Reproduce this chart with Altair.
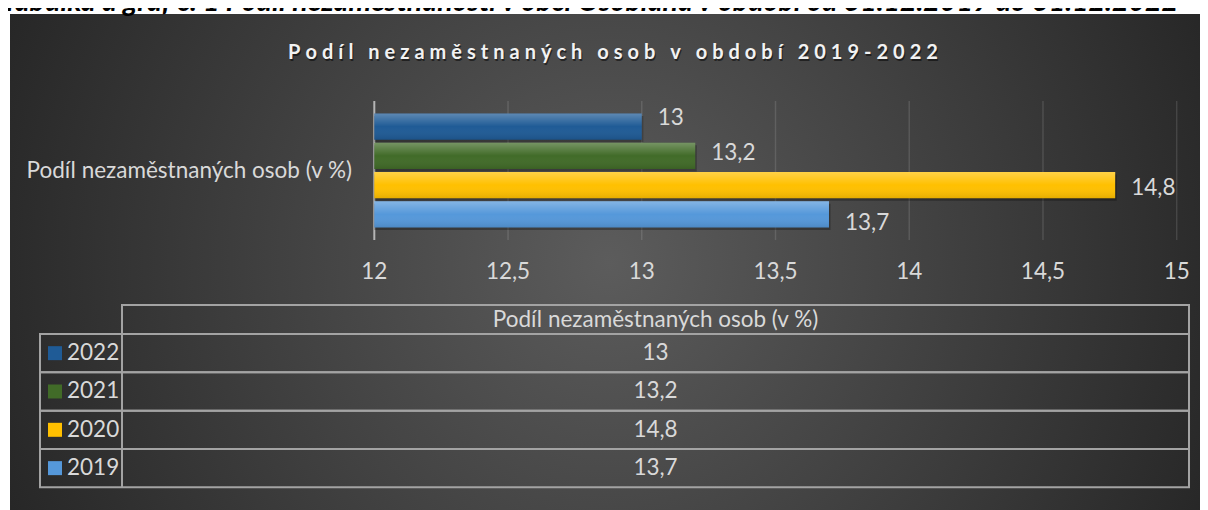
import altair as alt
import pandas as pd

# ---- data ----
years = ["2022", "2021", "2020", "2019"]
values = [13.0, 13.2, 14.77, 13.7]
bar_colors = ["#1f5b96", "#416b28", "#ffc000", "#5598da"]
ticks = [12, 12.5, 13, 13.5, 14, 14.5, 15]
category = "Podíl nezaměstnaných osob (v %)"
chart_title = "Podíl nezaměstnaných osob v období 2019-2022"
caption = "Tabulka a graf č. 1 Podíl nezaměstnanosti v obci Osoblaha v období od 31.12.2019 do 31.12.2022"

FONT = "Lato, DejaVu Sans"
FS = 22.5
W, H = 1192, 502
TXT = "#d9d9d9"
LINE = "#a3a3a3"

bars_df = pd.DataFrame({"year": years, "value": values})
ticks_df = pd.DataFrame({"tick": ticks})
one = pd.DataFrame({"k": [0]})

xs = alt.Scale(domain=[12, 15], range=[366.3, 1168.7])
ys = alt.Scale(domain=years, range=[93, 232], paddingInner=0.11, paddingOuter=0.43)
ts = alt.Scale(domain=years, range=[326, 479.3], paddingInner=0, paddingOuter=0)
cs = alt.Scale(domain=years, range=bar_colors)

label_expr = "replace(toString(round(datum.value*10)/10), '.', ',')"

# ---- background panel ----
panel = alt.Chart(one).mark_rect(
    fill={"gradient": "radial", "x1": 0.5, "y1": 0.5, "r1": 0,
          "x2": 0.5, "y2": 0.5, "r2": 0.55,
          "stops": [{"offset": 0, "color": "#5c5c5c"},
                    {"offset": 1, "color": "#262626"}]}
).encode(x=alt.value(2), x2=alt.value(W + 8), y=alt.value(6), y2=alt.value(H))

cap = alt.Chart(one).mark_text(
    text=caption, font="Lato", fontSize=28.5, fontWeight="bold", fontStyle="italic",
    color="#000000", align="left", baseline="alphabetic"
).encode(x=alt.value(-6), y=alt.value(2.5))

spaced = "\u2005".join(chart_title)
title_shadow = alt.Chart(one).mark_text(
    text=spaced, font=FONT, fontSize=20, fontWeight="bold", color="#000000",
    opacity=0.5, align="center", baseline="alphabetic", dx=1, dy=2
).encode(x=alt.value(605), y=alt.value(50.5))
title = alt.Chart(one).mark_text(
    text=spaced, font=FONT, fontSize=20, fontWeight="bold", color="#f2f2f2",
    align="center", baseline="alphabetic"
).encode(x=alt.value(605), y=alt.value(50.5))

# ---- axis / grid ----
grid = alt.Chart(ticks_df).transform_filter("datum.tick > 12").mark_rule(
    color="#ffffff", opacity=0.12, strokeWidth=1.5
).encode(x=alt.X("tick:Q", scale=xs, axis=None), y=alt.value(93), y2=alt.value(232))

axis_line = alt.Chart(ticks_df).transform_filter("datum.tick == 12").mark_rule(
    color="#c8c8c8", opacity=0.85, strokeWidth=2
).encode(x=alt.X("tick:Q", scale=xs, axis=None), y=alt.value(93), y2=alt.value(232))

tick_labels = alt.Chart(ticks_df).transform_calculate(
    lbl="replace(toString(datum.tick), '.', ',')"
).mark_text(font=FONT, fontSize=FS, color=TXT, baseline="middle").encode(
    x=alt.X("tick:Q", scale=xs, axis=None), y=alt.value(264), text="lbl:N")

cat_label = alt.Chart(one).mark_text(
    text=category, font=FONT, fontSize=FS, color=TXT, align="right", baseline="middle"
).encode(x=alt.value(344), y=alt.value(162.5))

# ---- bars ----
base = alt.Chart(bars_df).transform_calculate(label=label_expr)
enc = dict(
    x=alt.X("value:Q", scale=xs, axis=None),
    x2=alt.datum(12),
    y=alt.Y("year:N", scale=ys, axis=None, sort=years),
)
shadow = base.mark_bar(color="#000000", opacity=0.28, yOffset=2.5, xOffset=1.5).encode(**enc)
bars = base.mark_bar().encode(color=alt.Color("year:N", scale=cs, legend=None), **enc)
gloss = base.mark_bar(
    fill={"gradient": "linear", "x1": 0, "y1": 0, "x2": 0, "y2": 1,
          "stops": [{"offset": 0, "color": "rgba(255,255,255,0.28)"},
                    {"offset": 0.5, "color": "rgba(255,255,255,0.0)"},
                    {"offset": 1, "color": "rgba(0,0,0,0.10)"}]}
).encode(**enc)
value_labels = base.mark_text(
    font=FONT, fontSize=FS, color=TXT, align="left", baseline="middle", dx=16
).encode(x=alt.X("value:Q", scale=xs, axis=None),
         y=alt.Y("year:N", scale=ys, axis=None, sort=years), text="label:N")

# ---- data table ----
header_box = alt.Chart(one).mark_rect(fillOpacity=0, stroke=LINE, strokeWidth=2).encode(
    x=alt.value(114), x2=alt.value(1181), y=alt.value(297), y2=alt.value(326))
row_boxes = alt.Chart(bars_df).mark_rect(fillOpacity=0, stroke=LINE, strokeWidth=2).encode(
    x=alt.value(32), x2=alt.value(1181), y=alt.Y("year:N", scale=ts, axis=None, sort=years))
col_sep = alt.Chart(one).mark_rule(color=LINE, strokeWidth=2).encode(
    x=alt.value(114), y=alt.value(297), y2=alt.value(479.3))
header_text = alt.Chart(one).mark_text(
    text=category, font=FONT, fontSize=FS, color=TXT, align="center", baseline="middle"
).encode(x=alt.value(647.5), y=alt.value(311.5))
squares = alt.Chart(bars_df).mark_square(size=196, opacity=1, filled=True).encode(
    x=alt.value(47), y=alt.Y("year:N", scale=ts, axis=None, sort=years),
    color=alt.Color("year:N", scale=cs, legend=None))
year_text = alt.Chart(bars_df).mark_text(
    font=FONT, fontSize=FS, color=TXT, align="left", baseline="middle"
).encode(x=alt.value(59), y=alt.Y("year:N", scale=ts, axis=None, sort=years), text="year:N")
table_vals = base.mark_text(
    font=FONT, fontSize=FS, color=TXT, align="center", baseline="middle"
).encode(x=alt.value(647.5), y=alt.Y("year:N", scale=ts, axis=None, sort=years), text="label:N")

chart = alt.layer(
    panel, cap, title_shadow, title, grid, axis_line, tick_labels, cat_label,
    shadow, bars, gloss, value_labels,
    header_box, row_boxes, col_sep, header_text, squares, year_text, table_vals,
).resolve_scale(y="independent").properties(
    width=W, height=H, padding=0, background="#ffffff",
    autosize=alt.AutoSizeParams(type="none"),
).configure_view(strokeWidth=0)

chart.save("out.html", embed_options={"renderer": "svg", "actions": False})
